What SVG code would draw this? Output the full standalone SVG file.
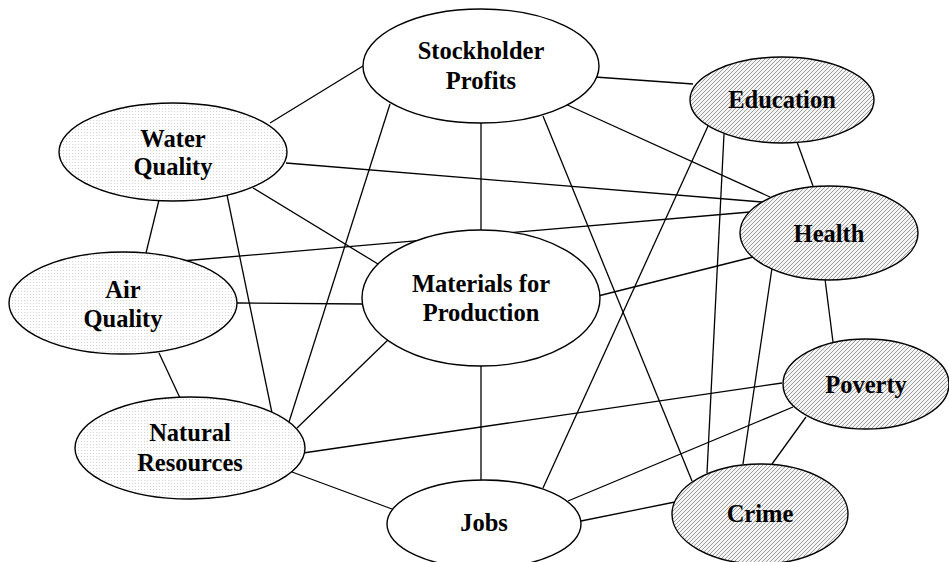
<svg xmlns="http://www.w3.org/2000/svg" width="949" height="562" viewBox="0 0 949 562">
<defs>
<pattern id="dots" patternUnits="userSpaceOnUse" width="3" height="3">
<rect width="3" height="3" fill="#ffffff"/>
<rect x="0" y="0" width="1" height="1" fill="#d4d4d4"/>
</pattern>
<pattern id="hatch" patternUnits="userSpaceOnUse" width="4" height="4">
<rect width="4" height="4" fill="#f4f4f4"/>
<path d="M-1,1 L1,-1 M0,4 L4,0 M3,5 L5,3" stroke="#8f8f8f" stroke-width="0.85"/>
</pattern>
</defs>
<style>
.edge{stroke:#000;stroke-width:1.3;fill:none}
.node ellipse{stroke:#000;stroke-width:1.4}
.white{fill:#fff}
.dot{fill:url(#dots)}
.hat{fill:url(#hatch)}
text{font-family:"Liberation Serif","Times New Roman",serif;font-weight:bold;font-size:24.5px;text-anchor:middle;fill:#000}
</style>
<rect width="949" height="562" fill="#fff"/>
<g id="connectors">
<line class="edge" x1="363" y1="66" x2="270" y2="123"/>
<line class="edge" x1="595" y1="77" x2="693" y2="84"/>
<line class="edge" x1="563" y1="103" x2="770" y2="197"/>
<line class="edge" x1="481" y1="122" x2="481" y2="231"/>
<line class="edge" x1="390" y1="104" x2="289" y2="422"/>
<line class="edge" x1="543" y1="116" x2="692" y2="481"/>
<line class="edge" x1="286" y1="163" x2="762" y2="202"/>
<line class="edge" x1="253" y1="188" x2="378" y2="264"/>
<line class="edge" x1="159" y1="200" x2="146" y2="253"/>
<line class="edge" x1="227" y1="195" x2="272" y2="413"/>
<line class="edge" x1="182" y1="261" x2="750" y2="212"/>
<line class="edge" x1="237" y1="303" x2="362" y2="304"/>
<line class="edge" x1="159" y1="353" x2="180" y2="398"/>
<line class="edge" x1="598" y1="296" x2="753" y2="257"/>
<line class="edge" x1="481" y1="366" x2="481" y2="480"/>
<line class="edge" x1="390" y1="338" x2="297" y2="428"/>
<line class="edge" x1="303" y1="453" x2="782" y2="383"/>
<line class="edge" x1="292" y1="472" x2="392" y2="509"/>
<line class="edge" x1="708" y1="126" x2="543" y2="488"/>
<line class="edge" x1="724" y1="134" x2="707" y2="473"/>
<line class="edge" x1="797" y1="142" x2="813" y2="186"/>
<line class="edge" x1="825" y1="279" x2="833" y2="342"/>
<line class="edge" x1="772" y1="268" x2="743" y2="464"/>
<line class="edge" x1="793" y1="407" x2="568" y2="501"/>
<line class="edge" x1="806" y1="417" x2="772" y2="464"/>
<line class="edge" x1="581" y1="521" x2="675" y2="502"/>
</g>
<g id="stockholder" class="node"><ellipse class="white" cx="481" cy="66" rx="118" ry="57"/><text x="481" y="59">Stockholder</text><text x="481" y="89">Profits</text></g>
<g id="education" class="node"><ellipse class="hat" cx="782" cy="100" rx="92" ry="43"/><text x="782" y="108">Education</text></g>
<g id="water" class="node"><ellipse class="dot" cx="173" cy="152" rx="114" ry="49"/><text x="173" y="147">Water</text><text x="173" y="175">Quality</text></g>
<g id="health" class="node"><ellipse class="hat" cx="829" cy="233" rx="89" ry="47"/><text x="829" y="242">Health</text></g>
<g id="air" class="node"><ellipse class="dot" cx="123" cy="303" rx="114" ry="51"/><text x="123" y="298">Air</text><text x="123" y="327">Quality</text></g>
<g id="materials" class="node"><ellipse class="white" cx="481" cy="298" rx="119" ry="68"/><text x="481" y="292">Materials for</text><text x="481" y="321">Production</text></g>
<g id="poverty" class="node"><ellipse class="hat" cx="866" cy="384" rx="83" ry="45"/><text x="866" y="393">Poverty</text></g>
<g id="natural" class="node"><ellipse class="dot" cx="190" cy="448" rx="115" ry="51"/><text x="190" y="441">Natural</text><text x="190" y="471">Resources</text></g>
<g id="jobs" class="node"><ellipse class="white" cx="484" cy="524" rx="97" ry="44"/><text x="484" y="531">Jobs</text></g>
<g id="crime" class="node"><ellipse class="hat" cx="760" cy="514" rx="88" ry="50"/><text x="760" y="522">Crime</text></g>
</svg>
